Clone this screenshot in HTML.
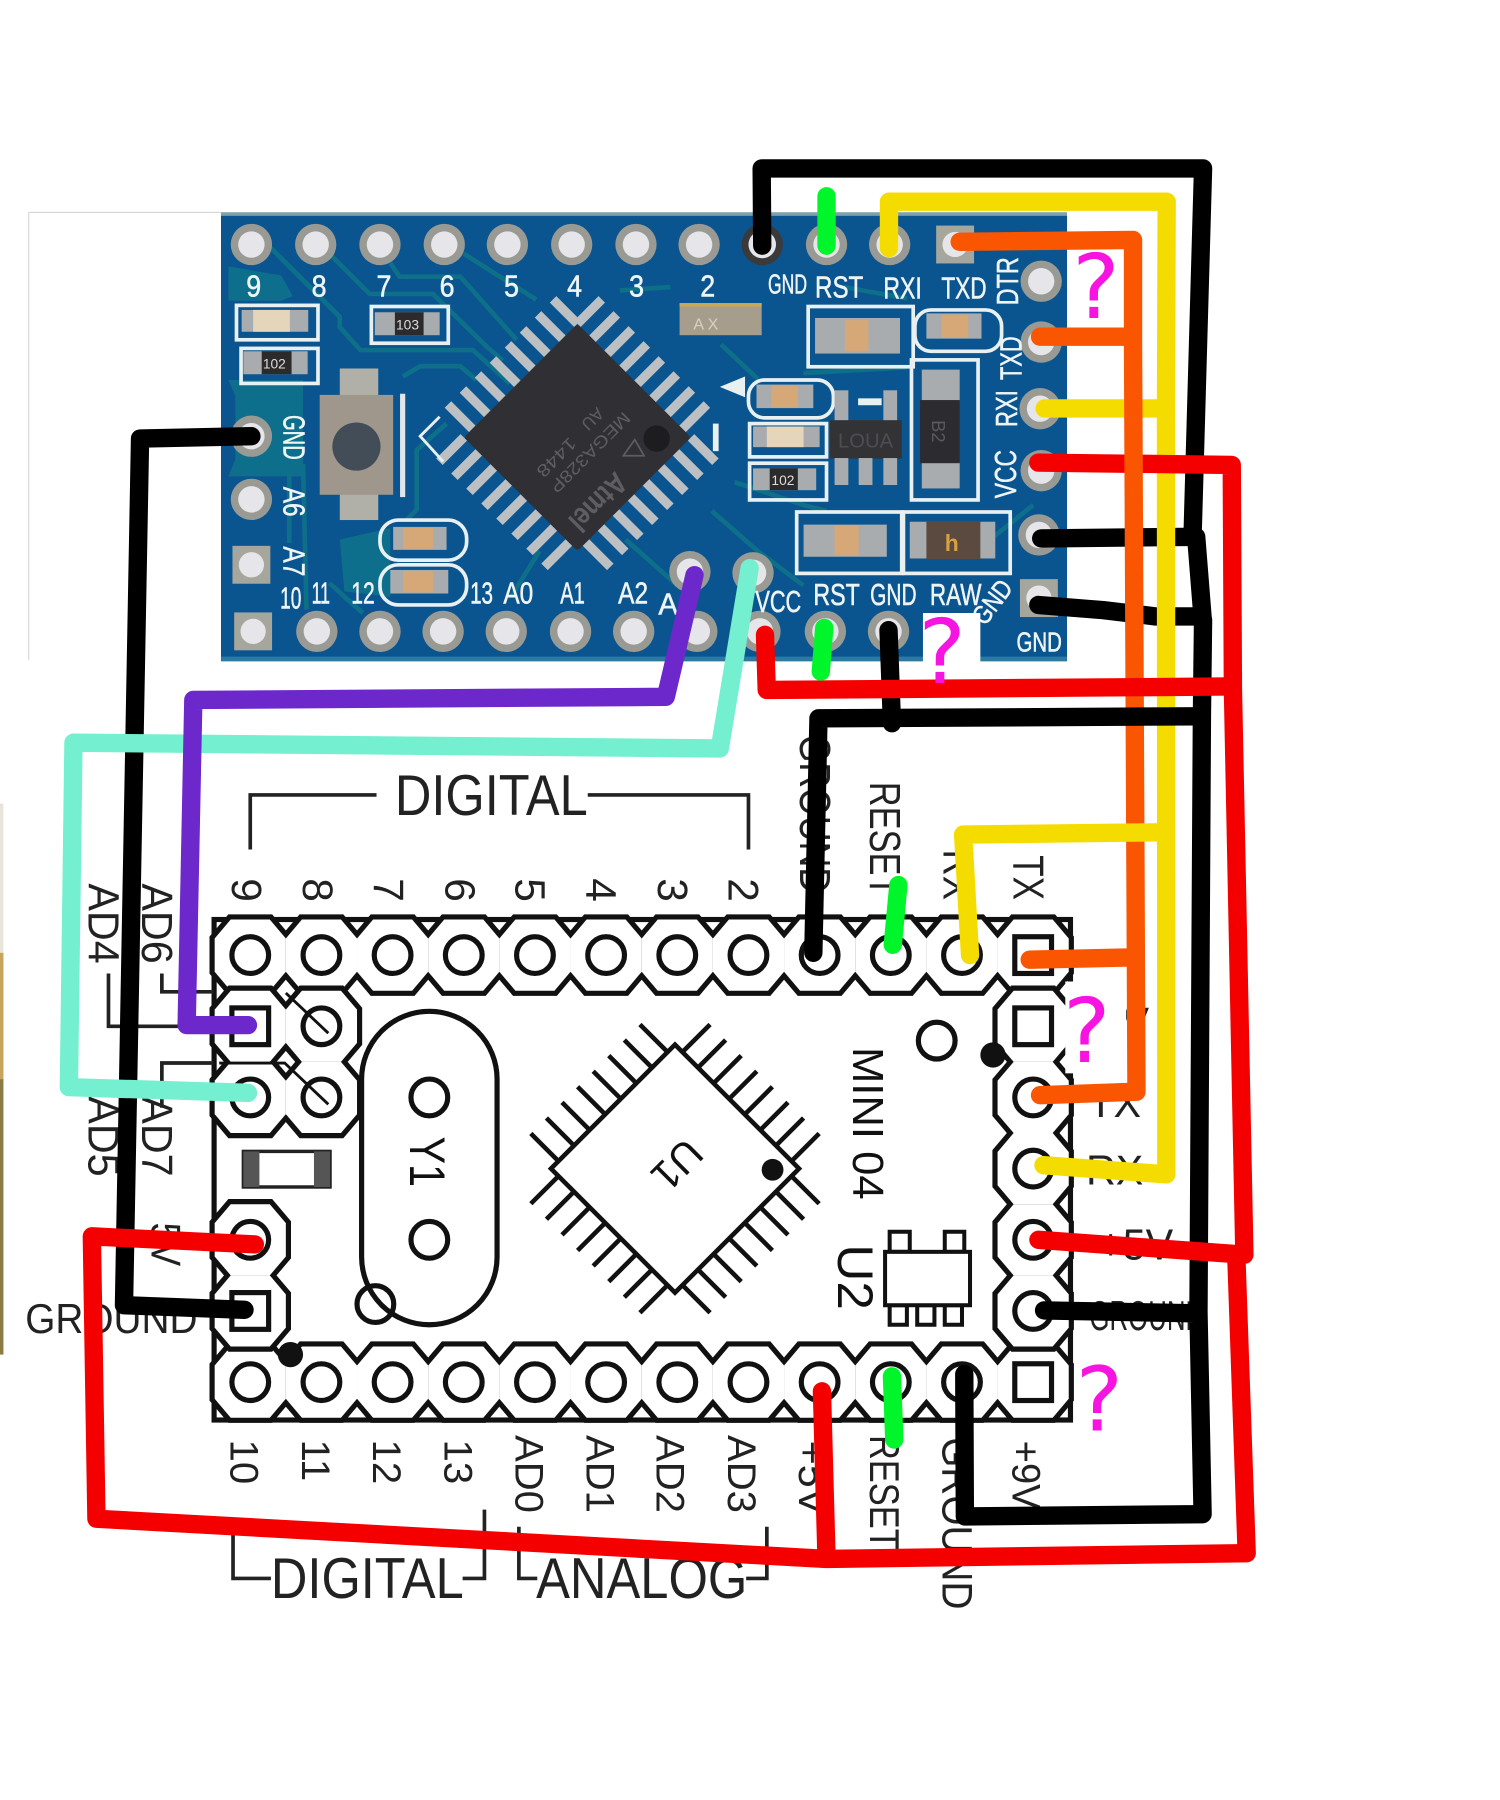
<!DOCTYPE html>
<html><head><meta charset="utf-8"><style>
html,body{margin:0;padding:0;background:#fff;width:1500px;height:1800px;overflow:hidden}
svg{display:block}
text{font-family:"Liberation Sans",sans-serif}
.w{fill:#eef4f4;font-size:27px;stroke:#eef4f4;stroke-width:.5}
.k{fill:#222;font-size:32px}
.wire{fill:none;stroke-linecap:round;stroke-linejoin:round;stroke-width:16}
.slk{fill:none;stroke:#e8f0f2;stroke-width:3.2}
</style></head><body>
<svg width="1500" height="1800" viewBox="0 0 1306.67 1568" xmlns="http://www.w3.org/2000/svg">
<defs>
<g id="p"><circle r="18" fill="#9a9a94"/><circle r="11.5" fill="#e6e6ea"/></g>
<g id="ps"><rect x="-16.5" y="-16.5" width="33" height="33" fill="#a6a69c"/><circle r="11" fill="#e6e6ea"/></g>
<polygon id="oc" points="-31,-14.5 -17,-31 17,-31 31,-14.5 31,14.5 17,31 -17,31 -31,14.5"/>
<circle id="c" r="16" fill="#fff" stroke="#111" stroke-width="4.5"/>
<rect id="q" x="-16" y="-16" width="32" height="32" fill="#fff" stroke="#111" stroke-width="4.5"/>
<g id="rowT"><use href="#oc" x="218" y="832"/><use href="#oc" x="280" y="832"/><use href="#oc" x="342" y="832"/><use href="#oc" x="404" y="832"/><use href="#oc" x="466" y="832"/><use href="#oc" x="528" y="832"/><use href="#oc" x="590" y="832"/><use href="#oc" x="652" y="832"/><use href="#oc" x="714" y="832"/><use href="#oc" x="776" y="832"/><use href="#oc" x="838" y="832"/><use href="#oc" x="900" y="832"/></g>
<g id="rowB"><use href="#oc" x="218" y="1204"/><use href="#oc" x="280" y="1204"/><use href="#oc" x="342" y="1204"/><use href="#oc" x="404" y="1204"/><use href="#oc" x="466" y="1204"/><use href="#oc" x="528" y="1204"/><use href="#oc" x="590" y="1204"/><use href="#oc" x="652" y="1204"/><use href="#oc" x="714" y="1204"/><use href="#oc" x="776" y="1204"/><use href="#oc" x="838" y="1204"/><use href="#oc" x="900" y="1204"/></g>
<g id="colR"><use href="#oc" x="900" y="894"/><use href="#oc" x="900" y="956"/><use href="#oc" x="900" y="1018"/><use href="#oc" x="900" y="1080"/><use href="#oc" x="900" y="1142"/></g>
<g id="blk"><use href="#oc" x="218" y="894"/><use href="#oc" x="280" y="894"/><use href="#oc" x="218" y="956"/><use href="#oc" x="280" y="956"/></g>
<g id="lp"><use href="#oc" x="218" y="1080"/><use href="#oc" x="218" y="1142"/></g>
</defs>

<!-- page edge artefacts -->
<path d="M25 185V575M25 185H193" stroke="#d8d8d8" stroke-width="1" fill="none"/>
<rect x="0" y="700" width="3" height="130" fill="#e8e4dc"/>
<rect x="0" y="830" width="3" height="110" fill="#c9a45c"/>
<rect x="0" y="940" width="3" height="240" fill="#8d7a45"/>

<!-- PCB -->
<rect x="192.5" y="185" width="737" height="391" fill="#0a5590"/>
<rect x="192.5" y="185" width="737" height="3" fill="#7fa2aa"/>
<rect x="192.5" y="572" width="737" height="4" fill="#2a7aa4"/>
<path d="M199 331H264V415H199L205 400V345Z" fill="#0e6f8c"/>
<path d="M199 232L245 240L255 258L245 262L199 262Z" fill="#0e6f8c"/>
<path d="M296 470L340 460L340 520L300 515Z" fill="#0e6f8c"/>
<g stroke="#0d7088" stroke-width="4" fill="none">
<path d="M235 215L296 276V285L314 305H412L444 334M287 221L322 256H377L424 302L438 314M340 229L348 241H401L450 296M404 221L467 261M351 328L366 319H401L415 331M389 369L363 392V444L354 453M264 404L267 531M252 407V473M287 508L316 534M540 253L584 250M470 480L445 520M545 470L590 510M628 300L660 330M620 445L660 480L700 510M640 420L700 440L720 445M850 480L900 440M700 325L790 320M735 250L790 260"/>
</g>
<use href="#p" x="219" y="213"/><use href="#p" x="275" y="213"/><use href="#p" x="331" y="213"/><use href="#p" x="387" y="213"/><use href="#p" x="442" y="213"/><use href="#p" x="498" y="213"/><use href="#p" x="554" y="213"/><use href="#p" x="609" y="213"/><circle cx="664" cy="213" r="18" fill="#3a3a3a"/><circle cx="664" cy="213" r="12" fill="#e6e6ea"/><use href="#p" x="720" y="213"/><use href="#p" x="775" y="213"/><use href="#ps" x="832" y="213"/>
<use href="#p" x="907" y="245"/><use href="#p" x="907" y="298"/><use href="#p" x="906" y="356"/><use href="#p" x="907" y="410"/><use href="#p" x="905" y="466"/><use href="#ps" x="905" y="521"/>
<use href="#p" x="219" y="380"/><use href="#p" x="219" y="435"/><use href="#ps" x="219" y="492"/><use href="#ps" x="220.5" y="550"/>
<use href="#p" x="276" y="550"/><use href="#p" x="331" y="550"/><use href="#p" x="386" y="550"/><use href="#p" x="441" y="550"/><use href="#p" x="497" y="550"/><use href="#p" x="552" y="550"/><use href="#p" x="607" y="550"/><use href="#p" x="662" y="550"/><use href="#p" x="719" y="550"/><use href="#p" x="774" y="550"/>
<use href="#p" x="601" y="498"/><use href="#p" x="656" y="499"/>

<!-- MCU -->
<g transform="rotate(45 503 381)">
<line x1="429" y1="296" x2="577" y2="296" stroke="#bcc0c2" stroke-width="30" stroke-dasharray="8 10.5"/>
<line x1="429" y1="466" x2="577" y2="466" stroke="#bcc0c2" stroke-width="30" stroke-dasharray="8 10.5"/>
<line x1="418" y1="307" x2="418" y2="455" stroke="#bcc0c2" stroke-width="30" stroke-dasharray="8 10.5"/>
<line x1="588" y1="307" x2="588" y2="455" stroke="#bcc0c2" stroke-width="30" stroke-dasharray="8 10.5"/>
<rect x="433" y="311" width="140" height="140" rx="3" fill="#303034"/>
</g>
<circle cx="572" cy="382" r="11.5" fill="#1d1d20"/>
<g fill="#5d5d62" font-size="15">
<text transform="translate(543 358) rotate(135)" textLength="92" lengthAdjust="spacingAndGlyphs">MEGA328P</text>
<text transform="translate(520 354) rotate(135)">AU</text>
<text transform="translate(496 380) rotate(135)" textLength="42" lengthAdjust="spacingAndGlyphs">1448</text>
<text transform="translate(536 410) rotate(135)" font-size="26" font-weight="bold" fill="#5e5e62" textLength="60" lengthAdjust="spacingAndGlyphs">Atmel</text>
</g>
<path d="M553 383l-10 14 18 0z" fill="none" stroke="#5d5d62" stroke-width="1.5"/>
<path d="M383 363L366 380L386 402" fill="none" stroke="#e8f0f2" stroke-width="2.5"/>

<!-- silk -->
<g class="slk">
<rect x="206" y="266" width="71" height="30"/><rect x="210" y="303.5" width="67" height="30.5"/><rect x="323.5" y="267" width="67" height="32"/>
<rect x="704" y="267" width="91.5" height="52.5"/><rect x="797" y="270" width="75.5" height="36" rx="14"/>
<rect x="652" y="331" width="74" height="33" rx="14"/><rect x="653" y="369" width="67" height="29"/><rect x="653" y="403.5" width="67" height="32"/>
<rect x="794" y="313.5" width="58" height="122"/><rect x="694" y="446" width="91.5" height="53.5"/><rect x="787" y="446" width="93" height="53.5"/>
<rect x="331" y="453" width="75.5" height="35" rx="16"/><rect x="331" y="492" width="75.5" height="35" rx="16"/>
</g>
<rect x="348.5" y="343" width="4.5" height="90" fill="#e0e6ea"/>
<!-- parts -->
<rect x="210.5" y="270" width="58" height="19" fill="#a8acae"/><rect x="220.5" y="270" width="32" height="19" fill="#e4d5bb"/>
<rect x="212" y="306" width="56" height="20" fill="#a8acae"/><rect x="228" y="306" width="26" height="20" fill="#2c2a2a"/><text x="229" y="321" fill="#ddd" font-size="12">102</text>
<rect x="326.5" y="272" width="56.5" height="20" fill="#a8acae"/><rect x="344" y="272" width="25" height="20" fill="#2c2a2a"/><text x="345" y="287" fill="#ddd" font-size="12">103</text>
<rect x="710" y="277" width="74" height="31" fill="#a8acae"/><rect x="736" y="279" width="20.5" height="27" fill="#d6a878"/>
<rect x="807" y="273" width="48" height="22" fill="#a8acae"/><rect x="820" y="274" width="23.5" height="20" fill="#d6a878"/>
<rect x="659" y="335" width="49.5" height="20.5" fill="#a8acae"/><rect x="672" y="336" width="23" height="19" fill="#d6a878"/>
<rect x="656" y="371.5" width="58" height="18" fill="#a8acae"/><rect x="668" y="371.5" width="32" height="18" fill="#e4d5bb"/>
<rect x="656" y="408" width="55" height="19" fill="#a8acae"/><rect x="670.5" y="408" width="24.5" height="19" fill="#2c2a2a"/><text x="672" y="422.5" fill="#ddd" font-size="12">102</text>
<rect x="700" y="457" width="72.5" height="28" fill="#a8acae"/><rect x="727" y="458" width="21" height="26" fill="#d6a878"/>
<rect x="792.5" y="454.5" width="74.5" height="32" fill="#a8acae"/><rect x="807" y="454" width="47" height="33" fill="#5a4a40"/><text x="823" y="480" fill="#d9a040" font-size="20" font-weight="bold">h</text>
<rect x="342.5" y="459" width="46.5" height="20" fill="#a8acae"/><rect x="351" y="460" width="26.5" height="18" fill="#d6a878"/>
<rect x="340" y="496.5" width="50.5" height="20.5" fill="#a8acae"/><rect x="351" y="497.5" width="26.5" height="18.5" fill="#d6a878"/>
<rect x="592" y="264" width="71.5" height="28" fill="#a79d8c"/><rect x="592" y="264" width="71.5" height="3" fill="#c8a850"/><text x="604" y="287" fill="#d8d0c0" font-size="14">A X</text>
<rect x="723" y="366" width="62.5" height="33.5" fill="#333336"/><text x="730" y="390" fill="#4d4d52" font-size="18" textLength="48" lengthAdjust="spacingAndGlyphs">LOUA</text>
<rect x="727" y="340" width="12" height="26" fill="#a8acae"/><rect x="769.5" y="340" width="12" height="26" fill="#a8acae"/><rect x="747.5" y="347" width="20.5" height="6" fill="#e8f0f2"/>
<rect x="727" y="399" width="12" height="23.5" fill="#a8acae"/><rect x="748" y="399" width="12" height="23.5" fill="#a8acae"/><rect x="769.5" y="399" width="12" height="23.5" fill="#a8acae"/>
<rect x="803" y="322" width="33" height="27" fill="#a8acae"/><rect x="803" y="403" width="33" height="22.5" fill="#a8acae"/><rect x="801.5" y="348.5" width="34.5" height="55" fill="#2c2c30"/><text transform="translate(812 366) rotate(90)" fill="#5a5a5e" font-size="16">B2</text>
<!-- reset button -->
<rect x="296" y="321" width="33.5" height="24" fill="#b0b0a8"/><rect x="296" y="430" width="33.5" height="23" fill="#b0b0a8"/>
<rect x="278.5" y="344" width="64" height="87" fill="#9f978c"/>
<circle cx="310.5" cy="389" r="21" fill="#434d58"/>
<path d="M649 328L627 337L649 346Z" fill="#e8f0f2"/><rect x="621" y="369" width="5" height="24" fill="#e8f0f2"/>

<!-- PCB labels -->
<g class="w">
<text x="214.5" y="258.5" textLength="13" lengthAdjust="spacingAndGlyphs">9</text>
<text x="271.5" y="258.5" textLength="13" lengthAdjust="spacingAndGlyphs">8</text>
<text x="328" y="258.5" textLength="13" lengthAdjust="spacingAndGlyphs">7</text>
<text x="383" y="258.5" textLength="13" lengthAdjust="spacingAndGlyphs">6</text>
<text x="439" y="258.5" textLength="13" lengthAdjust="spacingAndGlyphs">5</text>
<text x="494" y="258.5" textLength="13" lengthAdjust="spacingAndGlyphs">4</text>
<text x="548" y="258.5" textLength="13" lengthAdjust="spacingAndGlyphs">3</text>
<text x="610" y="258.5" textLength="13" lengthAdjust="spacingAndGlyphs">2</text>
<text x="669" y="255.5" font-size="24" textLength="34" lengthAdjust="spacingAndGlyphs">GND</text>
<text x="710" y="259" textLength="42" lengthAdjust="spacingAndGlyphs">RST</text>
<text x="769.5" y="260" textLength="33.5" lengthAdjust="spacingAndGlyphs">RXI</text>
<text x="820" y="260" textLength="39.5" lengthAdjust="spacingAndGlyphs">TXD</text>
<text transform="translate(887 266) rotate(-90)" textLength="42" lengthAdjust="spacingAndGlyphs">DTR</text>
<text transform="translate(890 331) rotate(-90)" textLength="38" lengthAdjust="spacingAndGlyphs">TXD</text>
<text transform="translate(886 372) rotate(-90)" textLength="32" lengthAdjust="spacingAndGlyphs">RXI</text>
<text transform="translate(885 434) rotate(-90)" textLength="42" lengthAdjust="spacingAndGlyphs">VCC</text>
<text transform="translate(247 361.5) rotate(90)" textLength="39" lengthAdjust="spacingAndGlyphs">GND</text>
<text transform="translate(247 424) rotate(90)" textLength="26" lengthAdjust="spacingAndGlyphs">A6</text>
<text transform="translate(247 476) rotate(90)" textLength="26" lengthAdjust="spacingAndGlyphs">A7</text>
<text x="244" y="530" textLength="18.5" lengthAdjust="spacingAndGlyphs">10</text>
<text x="271.5" y="525.5" textLength="16" lengthAdjust="spacingAndGlyphs">11</text>
<text x="306" y="525.5" textLength="20.5" lengthAdjust="spacingAndGlyphs">12</text>
<text x="409.5" y="525.5" textLength="20" lengthAdjust="spacingAndGlyphs">13</text>
<text x="438.5" y="525.5" textLength="26" lengthAdjust="spacingAndGlyphs">A0</text>
<text x="488" y="525.5" textLength="21.5" lengthAdjust="spacingAndGlyphs">A1</text>
<text x="538.5" y="525.5" textLength="26" lengthAdjust="spacingAndGlyphs">A2</text>
<text x="573.5" y="535.5" textLength="17" lengthAdjust="spacingAndGlyphs">A</text>
<text x="658" y="533" textLength="40" lengthAdjust="spacingAndGlyphs">VCC</text>
<text x="708.5" y="527" textLength="40.5" lengthAdjust="spacingAndGlyphs">RST</text>
<text x="758" y="527" textLength="40.5" lengthAdjust="spacingAndGlyphs">GND</text>
<text x="810" y="527" textLength="45" lengthAdjust="spacingAndGlyphs">RAW</text>
<text transform="translate(858 546) rotate(-53)" font-size="23" textLength="42" lengthAdjust="spacingAndGlyphs">GND</text>
<text x="885.5" y="567.5" font-size="24" textLength="39.5" lengthAdjust="spacingAndGlyphs">GND</text>
</g>

<!-- schematic frame -->
<rect x="186.5" y="801" width="746" height="436" fill="#fff" stroke="#111" stroke-width="4.5"/>
<use href="#rowT" fill="#fff" stroke="#111" stroke-width="9"/><use href="#rowT" fill="#fff"/>
<use href="#rowB" fill="#fff" stroke="#111" stroke-width="9"/><use href="#rowB" fill="#fff"/>
<use href="#colR" fill="#fff" stroke="#111" stroke-width="9"/><use href="#colR" fill="#fff"/>
<use href="#blk" fill="#fff" stroke="#111" stroke-width="9"/><use href="#blk" fill="#fff"/>
<use href="#lp" fill="#fff" stroke="#111" stroke-width="9"/><use href="#lp" fill="#fff"/>
<g>
<use href="#c" x="218" y="832"/><use href="#c" x="280" y="832"/><use href="#c" x="342" y="832"/><use href="#c" x="404" y="832"/><use href="#c" x="466" y="832"/><use href="#c" x="528" y="832"/><use href="#c" x="590" y="832"/><use href="#c" x="652" y="832"/><use href="#c" x="714" y="832"/><use href="#c" x="776" y="832"/><use href="#c" x="838" y="832"/><use href="#q" x="900" y="832"/>
<use href="#q" x="900" y="894"/><use href="#c" x="900" y="956"/><use href="#c" x="900" y="1018"/><use href="#c" x="900" y="1080"/><use href="#c" x="900" y="1142"/>
<use href="#q" x="218" y="894"/><use href="#c" x="280" y="894"/><use href="#c" x="218" y="956"/><use href="#c" x="280" y="956"/>
<use href="#c" x="218" y="1080"/><use href="#q" x="218" y="1142"/>
<use href="#c" x="218" y="1204"/><use href="#c" x="280" y="1204"/><use href="#c" x="342" y="1204"/><use href="#c" x="404" y="1204"/><use href="#c" x="466" y="1204"/><use href="#c" x="528" y="1204"/><use href="#c" x="590" y="1204"/><use href="#c" x="652" y="1204"/><use href="#c" x="714" y="1204"/><use href="#c" x="776" y="1204"/><use href="#c" x="838" y="1204"/><use href="#q" x="900" y="1204"/>
</g>
<path d="M249 865L286 900M191 926H248L286 962" stroke="#111" stroke-width="2.5" fill="none"/>
<!-- crystal -->
<rect x="315" y="881" width="118" height="273" rx="59" fill="#fff" stroke="#111" stroke-width="4.5"/>
<circle cx="374" cy="956" r="16" fill="#fff" stroke="#111" stroke-width="4.5"/>
<circle cx="374" cy="1080" r="16" fill="#fff" stroke="#111" stroke-width="4.5"/>
<circle cx="327" cy="1136" r="16" fill="none" stroke="#111" stroke-width="4.5"/>
<text transform="translate(357 990) rotate(90)" font-size="44" fill="#111" textLength="44" lengthAdjust="spacingAndGlyphs">Y1</text>
<!-- U1 -->
<g transform="rotate(45 588 1018)" stroke="#111">
<rect x="511.6" y="941.6" width="152.8" height="152.8" fill="#fff" stroke-width="4"/>
<line x1="518.8" y1="924.6" x2="657.2" y2="924.6" stroke-width="34" stroke-dasharray="4 15.2"/>
<line x1="518.8" y1="1111.4" x2="657.2" y2="1111.4" stroke-width="34" stroke-dasharray="4 15.2"/>
<line x1="494.6" y1="948.8" x2="494.6" y2="1087.2" stroke-width="34" stroke-dasharray="4 15.2"/>
<line x1="681.4" y1="948.8" x2="681.4" y2="1087.2" stroke-width="34" stroke-dasharray="4 15.2"/>
</g>
<text transform="translate(581 1006) rotate(135)" font-size="36" fill="#111" text-anchor="middle">U1</text>
<circle cx="673" cy="1019" r="9.5" fill="#111"/>
<circle cx="253" cy="1180" r="11" fill="#111"/>
<circle cx="865" cy="919" r="11" fill="#111"/>
<circle cx="816" cy="906.5" r="16" fill="#fff" stroke="#111" stroke-width="4.5"/>
<!-- small rect -->
<rect x="212" y="1003" width="75.5" height="31" fill="#fff" stroke="#222" stroke-width="3"/>
<rect x="212" y="1003" width="14" height="31" fill="#555"/><rect x="273.5" y="1003" width="14" height="31" fill="#555"/>
<!-- U2 -->
<g fill="#fff" stroke="#111" stroke-width="3.5">
<rect x="775" y="1073" width="17.5" height="17.5"/><rect x="823" y="1073" width="17" height="17.5"/>
<rect x="775" y="1137" width="15" height="17"/><rect x="799" y="1137" width="15" height="17"/><rect x="823" y="1137" width="15" height="17"/>
<rect x="771" y="1090.5" width="74" height="46.5"/>
</g>
<text transform="translate(730 1084) rotate(90)" font-size="44" fill="#111" textLength="57" lengthAdjust="spacingAndGlyphs">U2</text>
<text transform="translate(743 912) rotate(90)" font-size="38" fill="#111" textLength="133" lengthAdjust="spacingAndGlyphs">MINI 04</text>

<!-- schematic labels -->
<g class="k">
<text transform="translate(202 765) rotate(90)" font-size="37">9</text>
<text transform="translate(264 765) rotate(90)" font-size="37">8</text>
<text transform="translate(326 765) rotate(90)" font-size="37">7</text>
<text transform="translate(388 765) rotate(90)" font-size="37">6</text>
<text transform="translate(449 765) rotate(90)" font-size="37">5</text>
<text transform="translate(511 765) rotate(90)" font-size="37">4</text>
<text transform="translate(573 765) rotate(90)" font-size="37">3</text>
<text transform="translate(634.5 765) rotate(90)" font-size="37">2</text>
<text transform="translate(697 640) rotate(90)" font-size="38" textLength="138" lengthAdjust="spacingAndGlyphs">GROUND</text>
<text transform="translate(758 681) rotate(90)" font-size="38" textLength="100" lengthAdjust="spacingAndGlyphs">RESET</text>
<text transform="translate(822 740) rotate(90)" font-size="38" textLength="44" lengthAdjust="spacingAndGlyphs">RX</text>
<text transform="translate(883 745) rotate(90)" font-size="38" textLength="39" lengthAdjust="spacingAndGlyphs">TX</text>
<text transform="translate(77 769.5) rotate(90)" textLength="70" lengthAdjust="spacingAndGlyphs" font-size="38">AD4</text>
<text transform="translate(123.5 769.5) rotate(90)" textLength="70" lengthAdjust="spacingAndGlyphs" font-size="38">AD6</text>
<text transform="translate(77 955) rotate(90)" textLength="70" lengthAdjust="spacingAndGlyphs" font-size="38">AD5</text>
<text transform="translate(123.5 955) rotate(90)" textLength="70" lengthAdjust="spacingAndGlyphs" font-size="38">AD7</text>
<text transform="translate(132 1065) rotate(90)" textLength="38" lengthAdjust="spacingAndGlyphs" font-size="36">5V</text>
<text x="22" y="1161" font-size="36" textLength="150" lengthAdjust="spacingAndGlyphs">GROUND</text>
<text x="948" y="973" font-size="36">TX</text>
<text x="946" y="1032" font-size="36">RX</text>
<text x="957" y="1097" font-size="38" textLength="65" lengthAdjust="spacingAndGlyphs">+5V</text>
<text x="949" y="1158.5" font-size="36" textLength="100" lengthAdjust="spacingAndGlyphs">GROUND</text>
<text x="977" y="903" font-size="36">V</text>
<text transform="translate(201 1254) rotate(90)" font-size="35">10</text>
<text transform="translate(263 1254) rotate(90)" font-size="35">11</text>
<text transform="translate(325 1254) rotate(90)" font-size="35">12</text>
<text transform="translate(387 1254) rotate(90)" font-size="35">13</text>
<text transform="translate(449 1250) rotate(90)" font-size="35" textLength="68" lengthAdjust="spacingAndGlyphs">AD0</text>
<text transform="translate(511 1250) rotate(90)" font-size="35" textLength="68" lengthAdjust="spacingAndGlyphs">AD1</text>
<text transform="translate(572 1250) rotate(90)" font-size="35" textLength="68" lengthAdjust="spacingAndGlyphs">AD2</text>
<text transform="translate(634 1250) rotate(90)" font-size="35" textLength="68" lengthAdjust="spacingAndGlyphs">AD3</text>
<text transform="translate(696 1255) rotate(90)" font-size="35" textLength="65" lengthAdjust="spacingAndGlyphs">+5V</text>
<text transform="translate(758 1250) rotate(90)" font-size="36" textLength="100" lengthAdjust="spacingAndGlyphs">RESET</text>
<text transform="translate(821 1252) rotate(90)" font-size="37" textLength="150" lengthAdjust="spacingAndGlyphs">GROUND</text>
<text transform="translate(882 1255) rotate(90)" font-size="35" textLength="60" lengthAdjust="spacingAndGlyphs">+9V</text>
<text x="344" y="710" font-size="50" textLength="168" lengthAdjust="spacingAndGlyphs">DIGITAL</text>
<text x="236" y="1392" font-size="50" textLength="168" lengthAdjust="spacingAndGlyphs">DIGITAL</text>
<text x="467" y="1392" font-size="50" textLength="184" lengthAdjust="spacingAndGlyphs">ANALOG</text>
</g>
<g fill="none" stroke="#222" stroke-width="3.2">
<path d="M218 740V692.5H328M512 692.5H652V740"/>
<path d="M203 1333V1375H236M403 1375H422V1315"/>
<path d="M452 1330V1375H468M650 1375H668V1330"/>
<path d="M94.5 848V894H186M141 848V864H186M141 965V926H186"/>
</g>

<!-- white patches for ? marks -->
<rect x="804" y="534" width="50" height="56" fill="#fff"/>
<rect x="928" y="855" width="53" height="80" fill="#fff"/>

<!-- wires -->
<g class="wire">
<path stroke="#000" d="M664 214L663.5 146.7H1048L1039 462M907 469L1042 467.6L1048 543M904.5 527L961 531.5L1007 537H1045M1048 540L1047 624L1044 1143L1047.6 1319L840.5 1321L840 1197M909.5 1141.5L1041 1144M774 549L777 630M219 380L122 382L108 1137L213 1141"/>
<path stroke="#f5dc00" d="M774.4 216V175.7H1016.3L1015.7 363L1016 1023L909 1015M910 355.8H1010"/>
<path stroke="#f50000" d="M904.5 403L1073 405L1074 600L1084 1093L904.6 1080"/>
<path stroke="#fa5500" d="M836 210.6L987 209V300M906 293.3H987M987 300L990 951L906 954M897 836L984 834"/>
<path stroke="#f5dc00" d="M845 832L839 727L1013 725"/>
<path stroke="#000" d="M708.5 830L713 625.7L1045 624"/>
<path stroke="#f50000" d="M666.4 553L667.9 601L1072 598M1077 1095L1086 1353L720 1358L716 1212M720 1358L84 1323L80 1077L222 1084"/>
<path stroke="#74efcf" d="M653 495L627 652L64 647L60 947L216 952"/>
<path stroke="#6d28cc" d="M605 501L580 607L168.4 609.7L162.6 893H216"/>
<path stroke="#00f52a" d="M720 171V214M718 547L715 585M782.6 771L777.7 823M777 1199L779 1254"/>
</g>

<!-- question marks -->
<g fill="#f814e0" font-size="78">
<text x="934" y="277" style="font-family:'DejaVu Sans',sans-serif">?</text>
<text x="800" y="595" style="font-family:'DejaVu Sans',sans-serif">?</text>
<text x="926" y="925" style="font-family:'DejaVu Sans',sans-serif">?</text>
<text x="937" y="1246" style="font-family:'DejaVu Sans',sans-serif">?</text>
</g>
</svg>
</body></html>
